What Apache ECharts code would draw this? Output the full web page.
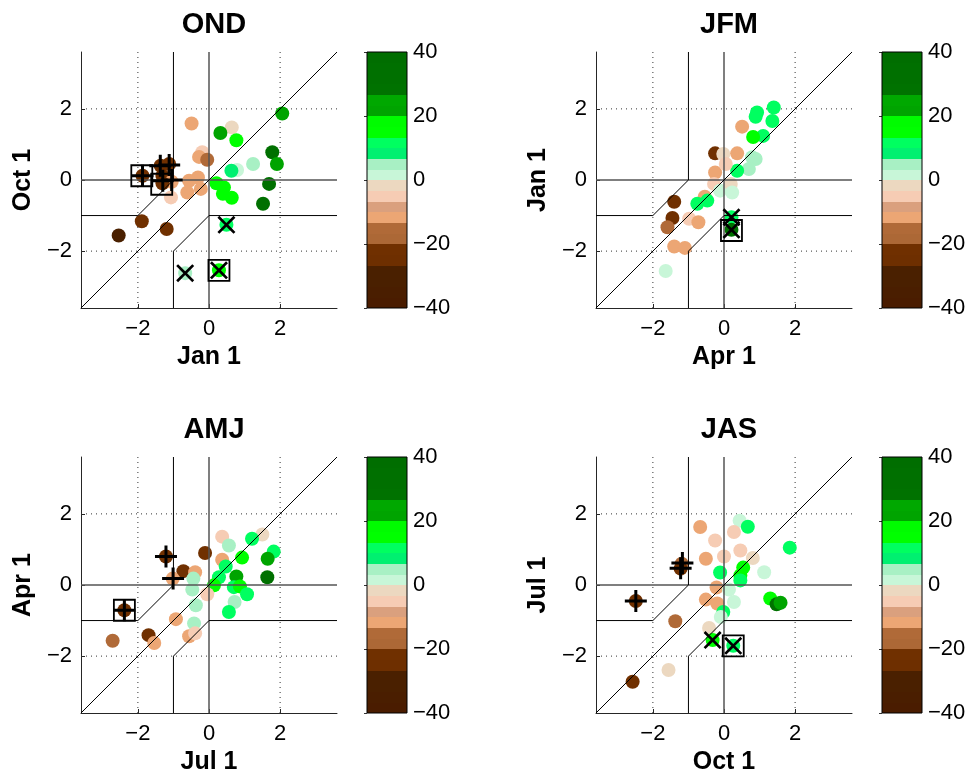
<!DOCTYPE html>
<html><head><meta charset="utf-8">
<script src="https://cdn.jsdelivr.net/npm/echarts@6/dist/echarts.min.js"></script>
<style>html,body{margin:0;padding:0;background:#fff}#c{width:975px;height:776px}</style>
</head><body><div id="c"></div>
<script>
const titles = ['OND', 'JFM', 'AMJ', 'JAS'];
const xNames = ['Jan 1', 'Apr 1', 'Jul 1', 'Oct 1'];
const yNames = ['Oct 1', 'Jan 1', 'Apr 1', 'Jul 1'];
const axisTickVals = [-2, 0, 2];
const gridVals = [-2, 2];
const axisMin = -3.6, axisMax = 3.6;
const cbMin = -40, cbMax = 40;
const cbEdges = [-40, -36.67, -33.33, -30, -26.67, -23.33, -20, -16.67, -13.33, -10, -6.67, -3.33, 0,
  3.33, 6.67, 10, 13.33, 16.67, 20, 23.33, 26.67, 30, 33.33, 36.67, 40];
const cbColors = ['#4a1c00', '#4a1e00', '#4a2000', '#4a2000', '#6e2f00', '#703000', '#ac6836', '#b06a38',
  '#eca674', '#daa07e', '#f6ccb4', '#ecd8c0', '#c8f6d8', '#a8f0c4', '#00f070', '#00ff60',
  '#00ff00', '#00fc00', '#00a400', '#00a800', '#007200', '#007000', '#007000', '#006e00'];

// reference lines (data space)
const diagLine = [[-3.6, -3.6], [3.6, 3.6]];
const upperBoundary = [[-1, 3.6], [-1, 0], [-2, -1], [-3.6, -1]];
const lowerBoundary = [[3.6, -1], [0, -1], [-1, -2], [-1, -3.6]];
const zeroV = [[0, -3.6], [0, 3.6]];
const zeroH = [[-3.6, 0], [3.6, 0]];

// points [x, y, colour value]
const ondPts = [[-0.49,1.59,-11],[0.64,1.48,-2],[0.32,1.32,22],[0.77,1.12,15],[2.06,1.87,22],[1.78,0.78,33],
 [1.91,0.45,22],[1.24,0.45,5],[0.79,0.28,3],[0.63,0.26,8],[1.69,-0.11,33],[1.52,-0.67,33],[0.21,-0.09,15],
 [0.42,-0.21,15],[0.39,-0.39,15],[0.64,-0.50,15],[-0.19,0.78,-5],[-0.28,0.65,-11],[-0.05,0.57,-15],
 [-0.31,0.07,-11],[-0.56,-0.02,-11],[-0.61,-0.35,-11],[-0.23,-0.25,-11],[-1.07,-0.49,-5],[-1.36,0.40,-22],
 [-1.12,0.45,-22],[-1.31,0.12,-22],[-1.05,-0.05,-11],[-1.87,0.12,-22],[-1.31,-0.09,-22],[-1.89,-1.16,-22],
 [-2.54,-1.56,-30],[-1.19,-1.38,-22],[0.49,-1.26,11],[-0.67,-2.62,5],[0.28,-2.54,15]];
const ondPlus = [[-1.87,0.12],[-1.37,0.40],[-1.12,0.42],[-1.3,-0.02],[-1.05,0.0]];
const ondCross = [[0.49,-1.26],[-0.67,-2.62],[0.28,-2.54]];
const ondSquare = [[-1.89,0.12],[-1.33,-0.12],[0.28,-2.54]];

const jfmPts = [[0.93,1.90,11],[0.89,1.78,11],[1.40,2.04,11],[1.36,1.66,11],[1.10,1.24,12],[0.82,1.21,15],
 [0.51,1.50,-11],[-0.25,0.75,-22],[-0.02,0.73,-2],[0.37,0.75,-11],[0.79,0.64,5],[0.89,0.59,5],[0.70,0.31,5],
 [0.37,0.26,11],[-0.25,0.21,-11],[0.05,0.45,-5],[-0.28,-0.11,-5],[-0.11,-0.30,3],[0.19,-0.11,-2],[0.23,-0.35,3],
 [-0.54,-0.47,-11],[-0.47,-0.58,11],[-0.75,-0.67,11],[-1.40,-0.61,-22],[-1.45,-1.07,-22],[-1.59,-1.33,-15],
 [-0.98,-1.09,-5],[-0.72,-1.19,-11],[-1.40,-1.87,-11],[-1.10,-1.91,-11],[-1.64,-2.56,3],[0.21,-1.05,11],
 [0.21,-1.40,33]];
const jfmPlus = [];
const jfmCross = [[0.21,-1.05],[0.21,-1.40]];
const jfmSquare = [[0.21,-1.42]];

const amjPts = [[0.37,1.36,-5],[1.50,1.42,-2],[1.21,1.30,11],[0.56,1.11,5],[1.82,0.94,12],[1.65,0.74,22],
 [0.93,0.77,15],[1.64,0.22,33],[0.77,0.24,22],[-0.11,0.90,-22],[0.37,0.71,-11],[0.47,0.52,11],[-0.72,0.39,-22],
 [-0.39,0.36,-11],[-0.44,0.18,5],[-1.02,0.18,-11],[0.28,0.22,11],[0.14,-0.01,15],[0.70,-0.06,12],[0.87,-0.04,15],
 [1.07,-0.26,11],[-0.47,-0.13,5],[-0.05,-0.26,-5],[-0.37,-0.57,5],[0.72,-0.48,5],[0.56,-0.76,11],[-0.93,-0.96,-11],
 [-0.42,-1.08,5],[-0.56,-1.44,-11],[-0.39,-1.36,-5],[-1.70,-1.41,-22],[-1.54,-1.63,-11],[-2.71,-1.57,-15],
 [-1.21,0.80,-22],[-2.38,-0.71,-22]];
const amjPlus = [[-1.21,0.80],[-1.01,0.18],[-2.38,-0.71]];
const amjCross = [];
const amjSquare = [[-2.38,-0.71]];

const jasPts = [[0.44,1.81,3],[0.67,1.64,11],[-0.67,1.63,-11],[0.28,1.49,-5],[-0.25,1.25,-5],[1.85,1.05,12],
 [0.46,0.97,-5],[0.00,0.80,-5],[0.81,0.76,-2],[-0.51,0.74,-11],[0.54,0.49,15],[1.13,0.36,3],[-0.11,0.35,12],
 [0.46,0.27,15],[0.46,0.13,11],[-1.19,0.60,-15],[-1.22,0.46,-22],[-2.48,-0.45,-22],[-0.21,-0.07,-11],
 [0.14,-0.13,3],[-0.51,-0.41,-11],[-0.19,-0.52,-11],[0.28,-0.48,3],[-0.02,-0.76,11],[-0.09,-0.90,3],
 [1.30,-0.38,15],[1.48,-0.54,28],[1.59,-0.50,22],[-0.42,-1.21,-2],[-1.37,-1.02,-15],[-1.56,-2.39,-2],
 [-2.57,-2.72,-22],[-0.32,-1.55,15],[0.26,-1.71,11]];
const jasPlus = [[-1.17,0.62],[-1.22,0.47],[-2.48,-0.45]];
const jasCross = [[-0.32,-1.55],[0.26,-1.71]];
const jasSquare = [[0.26,-1.71]];

const panels = [
  {pts: ondPts, plus: ondPlus, cross: ondCross, square: ondSquare},
  {pts: jfmPts, plus: jfmPlus, cross: jfmCross, square: jfmSquare},
  {pts: amjPts, plus: amjPlus, cross: amjCross, square: amjSquare},
  {pts: jasPts, plus: jasPlus, cross: jasCross, square: jasSquare}
];

const FONT = '"Liberation Sans", Arial, Helvetica, sans-serif';
const fmt = v => String(v).replace('-', '\u2212');
const plusPath = 'path://M0,9.5H22V12.5H0Z M9.5,0H12.5V22H9.5Z';
const crossPath = 'path://M0,1.9L1.9,0L9,7.1L16.1,0L18,1.9L10.9,9L18,16.1L16.1,18L9,10.9L1.9,18L0,16.1L7.1,9Z';

const gridPos = [[81, 52], [596, 52], [81, 457], [596, 457]];
const grids = [], xAxes = [], yAxes = [], series = [], titleOpts = [], pointIdx = [];

function lineSeries(i, data, style, z) {
  return {type: 'line', xAxisIndex: i, yAxisIndex: i, data: data, showSymbol: false, symbol: 'none',
    silent: true, animation: false, lineStyle: style, z: z};
}

panels.forEach((p, i) => {
  const [L, T] = gridPos[i];
  grids.push({left: L, top: T, width: 256, height: 256});
  const axisCommon = {
    gridIndex: i, type: 'value', min: axisMin, max: axisMax,
    axisLine: {show: true, onZero: false, lineStyle: {color: '#262626', width: 1}},
    axisTick: {show: true, inside: true, length: 4, customValues: axisTickVals, lineStyle: {color: '#262626'}},
    axisLabel: {customValues: axisTickVals, formatter: fmt, fontSize: 22, color: '#000', fontFamily: FONT},
    splitLine: {show: false},
    nameLocation: 'middle',
    nameTextStyle: {fontSize: 25, fontWeight: 'bold', color: '#000', fontFamily: FONT}
  };
  xAxes.push(Object.assign({}, axisCommon, {name: xNames[i], nameGap: 37,
    axisLabel: Object.assign({}, axisCommon.axisLabel, {margin: 10})}));
  yAxes.push(Object.assign({}, axisCommon, {name: yNames[i], nameGap: 45,
    axisLabel: Object.assign({}, axisCommon.axisLabel, {margin: 9})}));
  titleOpts.push({text: titles[i], left: L + 128, top: T - 47, textAlign: 'center',
    textStyle: {fontSize: 29, fontWeight: 'bold', color: '#000', fontFamily: FONT}});

  const dotted = {color: '#333', width: 1, type: [1, 4]};
  gridVals.forEach(v => {
    series.push(lineSeries(i, [[v, axisMin], [v, axisMax]], dotted, 1));
    series.push(lineSeries(i, [[axisMin, v], [axisMax, v]], dotted, 1));
  });
  pointIdx.push(series.length);
  series.push({type: 'scatter', xAxisIndex: i, yAxisIndex: i, data: p.pts, symbolSize: 14,
    itemStyle: {opacity: 1}, silent: true, animation: false, z: 2});
  series.push(lineSeries(i, zeroV, {color: '#555', width: 1.5}, 3));
  series.push(lineSeries(i, zeroH, {color: '#555', width: 1.5}, 3));
  series.push(lineSeries(i, upperBoundary, {color: '#000', width: 1}, 3));
  series.push(lineSeries(i, lowerBoundary, {color: '#000', width: 1}, 3));
  series.push(lineSeries(i, diagLine, {color: '#000', width: 1}, 3));
  series.push({type: 'scatter', xAxisIndex: i, yAxisIndex: i, data: p.square, symbol: 'rect', symbolSize: 21,
    itemStyle: {color: 'rgba(0,0,0,0)', borderColor: '#000', borderWidth: 1.8, opacity: 1},
    silent: true, animation: false, z: 4});
  series.push({type: 'scatter', xAxisIndex: i, yAxisIndex: i, data: p.plus, symbol: plusPath, symbolSize: 22,
    itemStyle: {color: '#000', opacity: 1}, silent: true, animation: false, z: 5});
  series.push({type: 'scatter', xAxisIndex: i, yAxisIndex: i, data: p.cross, symbol: crossPath, symbolSize: 18,
    itemStyle: {color: '#000', opacity: 1}, silent: true, animation: false, z: 5});
});

// colorbars
panels.forEach((p, i) => {
  const [L, T] = gridPos[i];
  const gi = 4 + i;
  grids.push({left: L + 286, top: T, width: 40, height: 256});
  xAxes.push({gridIndex: gi, type: 'value', min: 0, max: 1, show: false});
  yAxes.push({gridIndex: gi, type: 'value', min: cbMin, max: cbMax, interval: 20, position: 'right',
    axisLine: {show: false}, splitLine: {show: false},
    axisTick: {show: true, inside: true, length: 3, lineStyle: {color: '#333'}},
    axisLabel: {fontSize: 22, color: '#000', margin: 6, formatter: fmt, fontFamily: FONT}});
  series.push({type: 'custom', xAxisIndex: gi, yAxisIndex: gi, silent: true, animation: false, z: 2,
    data: cbColors.map((c, k) => [cbEdges[k], cbEdges[k + 1]]),
    renderItem: (params, api) => {
      const a = api.coord([0, api.value(1)]);
      const b = api.coord([1, api.value(0)]);
      const y0 = Math.floor(a[1]), y1 = Math.ceil(b[1]);
      return {type: 'rect', shape: {x: a[0], y: y0, width: b[0] - a[0], height: y1 - y0},
        style: {fill: cbColors[params.dataIndex]}};
    }});
  series.push({type: 'custom', xAxisIndex: gi, yAxisIndex: gi, silent: true, animation: false, z: 3,
    data: [[cbMin, cbMax]],
    renderItem: (params, api) => {
      const a = api.coord([0, api.value(1)]);
      const b = api.coord([1, api.value(0)]);
      return {type: 'rect', shape: {x: a[0], y: a[1], width: b[0] - a[0], height: b[1] - a[1]},
        style: {fill: 'none', stroke: '#000', lineWidth: 1}};
    }});
});

const chart = echarts.init(document.getElementById('c'), null, {renderer: 'canvas'});
chart.setOption({
  backgroundColor: '#fff',
  animation: false,
  title: titleOpts,
  grid: grids,
  xAxis: xAxes,
  yAxis: yAxes,
  visualMap: {type: 'piecewise', show: false, dimension: 2, seriesIndex: pointIdx,
    pieces: cbColors.map((c, k) => ({gte: cbEdges[k], lt: cbEdges[k + 1], color: c}))},
  series: series
});
</script></body></html>
